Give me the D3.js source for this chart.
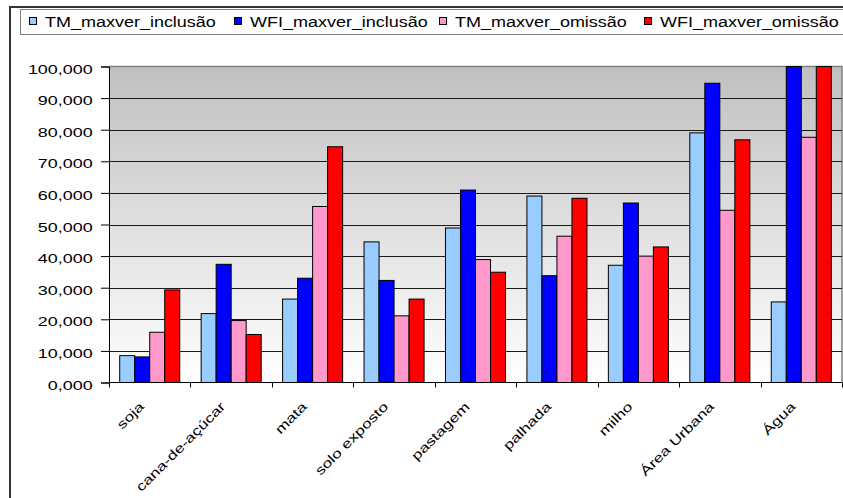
<!DOCTYPE html>
<html>
<head>
<meta charset="utf-8">
<script src="https://cdn.jsdelivr.net/npm/d3@7"></script>
<style>
  html, body { margin: 0; padding: 0; background: #ffffff; }
  svg { display: block; }
  text { font-family: "Liberation Sans", Arial, sans-serif; fill: #000; }
</style>
</head>
<body>
<svg id="chart" width="843" height="498"></svg>
<script>
// Classes of land cover
const categories = ["soja", "cana-de-açúcar", "mata", "solo exposto", "pastagem",
                    "palhada", "milho", "Área Urbana", "Água"];

// Series names shown in the legend
const seriesNames = ["TM_maxver_inclusão", "WFI_maxver_inclusão",
                     "TM_maxver_omissão", "WFI_maxver_omissão"];

// Error values (%) per class
const tmInclusao  = [8.5, 21.8, 26.4, 44.5, 48.9, 59.0, 37.1, 79.0, 25.5];
const wfiInclusao = [8.1, 37.4, 33.0, 32.3, 60.9, 33.8, 56.8, 94.7, 100.0];
const tmOmissao   = [15.9, 19.6, 55.7, 21.1, 38.9, 46.3, 40.0, 54.5, 77.6];
const wfiOmissao  = [29.3, 15.2, 74.6, 26.4, 34.9, 58.3, 42.9, 76.8, 100.0];

const yTicks = [0, 10, 20, 30, 40, 50, 60, 70, 80, 90, 100];

const seriesColors = ["#99ccff", "#0000ff", "#ff99cc", "#ff0000"];
const seriesValues = [tmInclusao, wfiInclusao, tmOmissao, wfiOmissao];

const svg = d3.select("#chart");

// Portuguese number format: comma as decimal separator
const fmt = d3.formatLocale({ decimal: ",", thousands: ".", grouping: [3], currency: ["", ""] })
              .format(".3f");

const plot = { left: 109, right: 842, top: 66.5, bottom: 382.5 };

const x0 = d3.scaleBand().domain(categories).range([plot.left, plot.right]).padding(0);
const groupPad = 10.7;
const x1 = d3.scaleBand().domain(seriesNames)
             .range([groupPad, x0.bandwidth() - groupPad]).padding(0);
const y = d3.scaleLinear().domain([0, 100]).range([plot.bottom, plot.top]);

// Outer chart frame
svg.append("path")
   .attr("d", `M10,498 L10,7 L843,7`)
   .attr("fill", "none").attr("stroke", "#333").attr("stroke-width", 2);

// Plot background: gray to white gradient
const defs = svg.append("defs");
const grad = defs.append("linearGradient").attr("id", "bg")
  .attr("x1", 0).attr("y1", 0).attr("x2", 0).attr("y2", 1);
grad.append("stop").attr("offset", "0%").attr("stop-color", "#c0c0c0");
grad.append("stop").attr("offset", "100%").attr("stop-color", "#ffffff");

svg.append("rect")
   .attr("x", plot.left).attr("y", plot.top)
   .attr("width", plot.right - plot.left).attr("height", plot.bottom - plot.top)
   .attr("fill", "url(#bg)");

// Plot border (top and right)
svg.append("path")
   .attr("d", `M${plot.left},${plot.top} L${plot.right},${plot.top} L${plot.right},${plot.bottom}`)
   .attr("fill", "none").attr("stroke", "#808080").attr("stroke-width", 1.5);

// Horizontal gridlines
svg.append("g").selectAll("line")
   .data(yTicks.filter(d => d > 0 && d < 100))
   .join("line")
   .attr("x1", plot.left).attr("x2", plot.right)
   .attr("y1", d => Math.round(y(d)) + 0.5).attr("y2", d => Math.round(y(d)) + 0.5)
   .attr("stroke", "#1a1a1a").attr("stroke-width", 1);

// Bars
const groups = svg.append("g").selectAll("g")
  .data(categories)
  .join("g")
  .attr("transform", d => `translate(${x0(d)},0)`);

groups.selectAll("rect")
  .data((c, i) => seriesNames.map((s, k) => ({ s, k, v: seriesValues[k][i] })))
  .join("rect")
  .attr("x", d => x1(d.s))
  .attr("y", d => y(d.v))
  .attr("width", x1.bandwidth())
  .attr("height", d => y(0) - y(d.v))
  .attr("fill", d => seriesColors[d.k])
  .attr("stroke", "#000").attr("stroke-width", 1);

// Y axis
const yAxis = svg.append("g")
  .attr("transform", `translate(${plot.left},0)`)
  .call(d3.axisLeft(y).tickValues(yTicks).tickSize(8).tickFormat(fmt));
yAxis.select(".domain").attr("stroke", "#000");
yAxis.selectAll(".tick line").attr("stroke", "#000");
yAxis.selectAll(".tick text")
  .attr("x", 0).attr("dy", null).attr("y", 0)
  .attr("transform", "translate(-16.3,6.5) scale(1.38,1)")
  .style("font-size", "13px");

// X axis baseline and ticks at category boundaries
svg.append("line")
   .attr("x1", plot.left).attr("x2", plot.right)
   .attr("y1", plot.bottom).attr("y2", plot.bottom)
   .attr("stroke", "#000");
const boundaries = categories.map(c => x0(c)).concat([plot.right]);
svg.append("g").selectAll("line")
   .data(boundaries)
   .join("line")
   .attr("x1", d => Math.round(d) + 0.5).attr("x2", d => Math.round(d) + 0.5)
   .attr("y1", plot.bottom).attr("y2", plot.bottom + 5)
   .attr("stroke", "#000");

// Rotated category labels
svg.append("g").selectAll("text")
   .data(categories)
   .join("text")
   .attr("transform", d => `translate(${x0(d) + x0.bandwidth() / 2 - 5},${plot.bottom + 25}) rotate(-45) scale(1.33,1)`)
   .attr("text-anchor", "end")
   .style("font-size", "13px")
   .text(d => d);

// Legend
const legend = svg.append("g");
legend.append("rect")
   .attr("x", 20.5).attr("y", 9.5).attr("width", 830).attr("height", 25)
   .attr("fill", "#ffffff").attr("stroke", "#808080").attr("stroke-width", 1);
const legendX0 = 29, legendStep = 205;
const items = legend.selectAll("g")
   .data(seriesNames)
   .join("g")
   .attr("transform", (d, i) => `translate(${legendX0 + i * legendStep},0)`);
items.append("rect")
   .attr("x", 0.5).attr("y", 17.5).attr("width", 7).attr("height", 7)
   .attr("fill", (d, i) => seriesColors[i]).attr("stroke", "#000");
items.append("text")
   .attr("transform", "translate(16,26.5) scale(1.2,1)")
   .style("font-size", "15px")
   .text(d => d);
</script>
</body>
</html>
